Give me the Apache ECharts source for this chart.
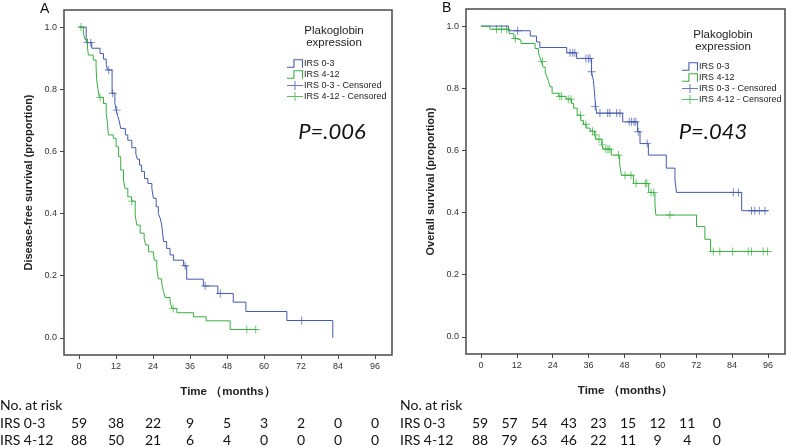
<!DOCTYPE html>
<html>
<head>
<meta charset="utf-8">
<script src="https://cdn.jsdelivr.net/npm/echarts@6.0.0/dist/echarts.min.js"></script>
<style>
	html, body { margin: 0; padding: 0; background: #fff; }
	#main { width: 786px; height: 447px; }
</style>
</head>
<body>
<div id="main"></div>
<script>
// values: [months, proportion surviving]
var groups = ['IRS 0-3', 'IRS 4-12'];
var xTicks = [0, 12, 24, 36, 48, 60, 72, 84, 96];
var yTicks = [0, 0.2, 0.4, 0.6, 0.8, 1.0];

// panel A - disease-free survival
var aBlue = [[0, 1], [2.3, 0.95], [4.1, 0.932], [6.8, 0.915], [7.9, 0.897], [8.8, 0.88], [9.2, 0.862], [10.7, 0.787],
	[11.6, 0.755], [12.0, 0.733], [12.6, 0.712], [13.0, 0.698], [13.5, 0.674], [15.0, 0.653], [15.8, 0.636], [17.1, 0.612],
	[18.4, 0.592], [18.9, 0.575], [19.6, 0.556], [20.3, 0.535], [21.2, 0.513], [22.3, 0.497], [23.6, 0.481], [24.1, 0.449],
	[25.0, 0.422], [25.7, 0.40], [26.3, 0.385], [26.8, 0.363], [27.4, 0.31], [28.4, 0.288], [29.5, 0.267], [30.6, 0.25],
	[33.9, 0.232], [34.9, 0.189], [40.3, 0.167], [45.0, 0.143], [50.0, 0.115], [54.1, 0.085], [67.4, 0.056], [82.3, 0]];
var aGreen = [[0, 1], [1.4, 0.98], [1.9, 0.96], [2.7, 0.937], [3.0, 0.91], [4.6, 0.894], [5.5, 0.872], [5.7, 0.83],
	[6.1, 0.803], [6.5, 0.774], [7.9, 0.754], [8.8, 0.722], [9.2, 0.69], [9.5, 0.653], [11.1, 0.642], [12.0, 0.615],
	[12.8, 0.583], [13.5, 0.54], [14.4, 0.508], [14.9, 0.481], [15.8, 0.454], [17.0, 0.44], [18.2, 0.395], [18.7, 0.363],
	[19.8, 0.337], [21.1, 0.32], [21.6, 0.299], [22.5, 0.277], [24.1, 0.272], [24.4, 0.25], [25.2, 0.224], [25.7, 0.19],
	[26.8, 0.176], [27.4, 0.149], [27.9, 0.13], [29.5, 0.117], [30.1, 0.095], [31.7, 0.081], [37.1, 0.068], [41.2, 0.055],
	[49.0, 0.027], [57.3, 0.027]];
var aBlueCens = [[2.7, 0.95], [3.8, 0.95], [9.6, 0.862], [10.9, 0.787], [12.2, 0.733], [34.4, 0.232], [40.9, 0.167],
	[45.8, 0.143], [72.2, 0.056]];
var aGreenCens = [[0.6, 1], [6.8, 0.774], [17.1, 0.44], [30.5, 0.095], [54.4, 0.027], [57.3, 0.027]];

// panel B - overall survival
var bBlue = [[0, 1], [9.2, 0.985], [16.5, 0.968], [18.6, 0.949], [19.7, 0.931], [28.7, 0.914], [32.0, 0.896], [37.0, 0.853],
	[37.6, 0.825], [37.9, 0.796], [38.1, 0.77], [38.4, 0.741], [38.7, 0.72], [47.4, 0.692], [52.4, 0.66], [53.2, 0.622],
	[56.0, 0.585], [62.0, 0.543], [64.9, 0.505], [65.4, 0.465], [87.2, 0.406], [96.0, 0.406]];
var bGreen = [[0, 1], [3.0, 0.99], [9.4, 0.976], [11.0, 0.96], [11.8, 0.955], [13.4, 0.944], [18.1, 0.928], [19.2, 0.913],
	[19.7, 0.9], [20.2, 0.886], [20.8, 0.868], [21.5, 0.852], [22.0, 0.838], [22.6, 0.822], [23.1, 0.805], [23.8, 0.784],
	[26.0, 0.774], [28.5, 0.765], [30.3, 0.751], [31.0, 0.736], [32.2, 0.713], [33.4, 0.696], [34.3, 0.684], [35.2, 0.672],
	[36.5, 0.662], [38.0, 0.65], [38.6, 0.636], [40.4, 0.618], [41.0, 0.604], [43.6, 0.585], [46.4, 0.555], [47.0, 0.52],
	[51.0, 0.494], [56.1, 0.465], [58.2, 0.43], [58.5, 0.392], [72.1, 0.355], [74.9, 0.314], [76.8, 0.275], [96.0, 0.275]];
var bBlueCens = [[12.3, 0.985], [29.8, 0.914], [30.7, 0.914], [31.4, 0.914], [35.1, 0.896], [35.9, 0.896], [36.5, 0.896],
	[37.0, 0.853], [38.2, 0.741], [39.8, 0.72], [42.4, 0.72], [43.1, 0.72], [45.4, 0.72], [46.5, 0.72], [49.6, 0.692],
	[50.4, 0.692], [51.2, 0.692], [51.8, 0.692], [52.6, 0.66], [55.6, 0.622], [84.4, 0.465], [86.1, 0.465], [90.5, 0.406],
	[91.6, 0.406], [93.1, 0.406], [95.0, 0.406]];
var bGreenCens = [[5.2, 0.99], [6.9, 0.99], [8.6, 0.99], [11.5, 0.96], [20.6, 0.886], [26.4, 0.774], [27.0, 0.774],
	[29.2, 0.765], [30.1, 0.765], [33.3, 0.713], [35.1, 0.684], [37.3, 0.662], [38.4, 0.65], [39.5, 0.636], [40.7, 0.618],
	[41.8, 0.604], [42.5, 0.604], [43.1, 0.604], [46.0, 0.585], [48.2, 0.52], [50.2, 0.52], [51.9, 0.494], [55.0, 0.494],
	[55.5, 0.494], [56.9, 0.465], [57.8, 0.465], [63.2, 0.392], [77.7, 0.275], [79.9, 0.275], [84.2, 0.275], [89.4, 0.275],
	[90.5, 0.275], [94.4, 0.275], [95.9, 0.275]];

// numbers at risk, one per x tick
var riskA03 = [59, 38, 22, 9, 5, 3, 2, 0, 0];
var riskA412 = [88, 50, 21, 6, 4, 0, 0, 0, 0];
var riskB03 = [59, 57, 54, 43, 23, 15, 12, 11, 0];
var riskB412 = [88, 79, 63, 46, 22, 11, 9, 4, 0];

var pA = 'P=.006';
var pB = 'P=.043';

var BLUE = '#4459ad';
var GREEN = '#3aae42';
var FONT = 'Liberation Sans';
var stepIcon = 'path://M0,8H6V1H15V9H14V2H7V9H0Z';
var censIcon = 'path://M0,4H16V5H0ZM7.5,0H8.5V9H7.5Z';
var plus = 'path://M4,0h1v9h-1zM0,4h9v1h-9z';

drawChart();

function axisPair(idx, yName) {
	var x = {
		type: 'value', gridIndex: idx, min: idx === 0 ? -4.9 : -5, max: idx === 0 ? 101.5 : 101.7,
		name: 'Time （months）', nameLocation: 'middle', nameGap: 31,
		nameTextStyle: { fontFamily: FONT, fontWeight: 'bold', fontSize: 11.5, color: '#222' },
		axisLine: { show: false, onZero: false },
		axisTick: { show: true, length: 4, customValues: xTicks, lineStyle: { color: '#444' } },
		axisLabel: { customValues: xTicks, fontSize: 9, color: '#333', fontFamily: FONT, margin: 7 },
		splitLine: { show: false }
	};
	var y = {
		type: 'value', gridIndex: idx, min: -0.055, max: 1.055,
		name: yName, nameLocation: 'middle', nameGap: 30,
		nameTextStyle: { fontFamily: FONT, fontWeight: 'bold', fontSize: 11, color: '#222' },
		axisLine: { show: false, onZero: false },
		axisTick: { show: true, length: 4, customValues: yTicks, lineStyle: { color: '#444' } },
		axisLabel: {
			customValues: yTicks, fontSize: 9, color: '#333', fontFamily: FONT, margin: 7,
			formatter: function(v) { return v.toFixed(1); }
		},
		splitLine: { show: false }
	};
	return [x, y];
}

function km(name, idx, data, color) {
	return {
		name: name, type: 'line', step: 'end', xAxisIndex: idx, yAxisIndex: idx,
		data: data, showSymbol: false, symbol: 'none',
		lineStyle: { color: color, width: 1 }, itemStyle: { color: color }
	};
}

function cens(name, idx, data, color) {
	return {
		name: name, type: 'scatter', xAxisIndex: idx, yAxisIndex: idx,
		data: data, symbol: plus, symbolSize: 8, itemStyle: { color: color }
	};
}

function legendAt(left, top) {
	return {
		orient: 'vertical', left: left, top: top, itemWidth: 16, itemHeight: 9, itemGap: 2,
		selectedMode: false,
		textStyle: { fontFamily: FONT, fontSize: 9, color: '#222', padding: [0, 0, 0, -4] },
		data: [
			{ name: groups[0], icon: stepIcon },
			{ name: groups[1], icon: stepIcon },
			{ name: groups[0] + ' - Censored', icon: censIcon },
			{ name: groups[1] + ' - Censored', icon: censIcon }
		]
	};
}

function txt(x, y, s, style) {
	return {
		type: 'text', x: x, y: y, silent: true,
		style: Object.assign({ text: s, fill: '#111', fontFamily: 'Lato', fontSize: 14,
			textAlign: 'left', textVerticalAlign: 'middle' }, style || {})
	};
}

function drawChart() {
	let myChart = echarts.init(document.getElementById('main'));
	let axA = axisPair(0, 'Disease-free survival (proportion)');
	let axB = axisPair(1, 'Overall survival (proportion)');

	let option = {
		animation: false,
		grid: [
			{ left: 64, top: 10, width: 328, height: 345, show: true, borderColor: '#4a4a4a', borderWidth: 1.5 },
			{ left: 466, top: 9, width: 319, height: 345, show: true, borderColor: '#4a4a4a', borderWidth: 1.5 }
		],
		xAxis: [axA[0], axB[0]],
		yAxis: [axA[1], axB[1]],
		legend: [legendAt(282, 54), legendAt(677, 57)],
		series: [
			km(groups[0], 0, aBlue, BLUE),
			km(groups[1], 0, aGreen, GREEN),
			cens(groups[0] + ' - Censored', 0, aBlueCens, BLUE),
			cens(groups[1] + ' - Censored', 0, aGreenCens, GREEN),
			km(groups[0], 1, bBlue, BLUE),
			km(groups[1], 1, bGreen, GREEN),
			cens(groups[0] + ' - Censored', 1, bBlueCens, BLUE),
			cens(groups[1] + ' - Censored', 1, bGreenCens, GREEN)
		]
	};
	myChart.setOption(option);

	// text overlays: panel letters, legend heading, p values, risk table
	let g = [];
	g.push(txt(40, 9, 'A', { fontFamily: FONT, fontSize: 14 }));
	g.push(txt(442, 8, 'B', { fontFamily: FONT, fontSize: 14 }));
	let legHead = { fontFamily: FONT, fontSize: 11.5, textAlign: 'center', fill: '#222', lineHeight: 12 };
	g.push(txt(334, 37, 'Plakoglobin\nexpression', legHead));
	g.push(txt(723, 41, 'Plakoglobin\nexpression', legHead));
	let pStyle = { fontSize: 22, fontStyle: 'italic', textAlign: 'center' };
	g.push(txt(332, 132, pA, pStyle));
	g.push(txt(713, 132, pB, pStyle));

	let rows = [405, 423, 440];
	[[0, riskA03, riskA412], [400, riskB03, riskB412]].forEach(function(p, k) {
		g.push(txt(p[0], rows[0], 'No. at risk'));
		g.push(txt(p[0], rows[1], groups[0]));
		g.push(txt(p[0], rows[2], groups[1]));
		xTicks.forEach(function(t, i) {
			let cx = k === 0 ? myChart.convertToPixel({ xAxisIndex: 0 }, t) : 480 + i * 29.6;
			g.push(txt(cx, rows[1], String(p[1][i]), { textAlign: 'center' }));
			g.push(txt(cx, rows[2], String(p[2][i]), { textAlign: 'center' }));
		});
	});
	myChart.setOption({ graphic: g });

	window.addEventListener('resize', function() {
		myChart.resize();
	})
}
</script>
</body>
</html>
